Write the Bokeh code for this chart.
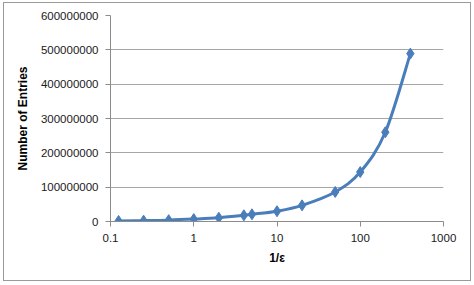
from bokeh.plotting import figure
from bokeh.models import FixedTicker, Range1d, Column
from bokeh.embed import file_html
from bokeh.resources import INLINE
import numpy as np

inv_eps = [0.125, 0.25, 0.5, 1, 2, 4, 5, 10, 20, 50, 100, 200, 400]
entries = [1.5e6, 2.5e6, 4e6, 7e6, 11e6, 18e6, 21e6, 30e6, 47e6, 86e6, 144e6, 260e6, 489e6]
x_ticks = [0.1, 1, 10, 100, 1000]
x_labels = ["0.1", "1", "10", "100", "1000"]
y_ticks = [0, 100000000, 200000000, 300000000, 400000000, 500000000, 600000000]
y_labels = [str(v) for v in y_ticks]

FONT = "Liberation Sans"
BLUE = "#4a7ebb"

p = figure(width=466, height=277, output_backend="svg", toolbar_location=None,
           x_axis_type="log", x_range=Range1d(0.1, 1000), y_range=Range1d(0, 600000000),
           min_border_left=106, min_border_right=27, min_border_top=12, min_border_bottom=59)
p.outline_line_color = None
p.background_fill_color = "white"
p.border_fill_color = "white"

# smoothed curve (Catmull-Rom style bezier in screen-linear space: log x, linear y)
lx = np.log10(np.array(inv_eps, dtype=float))
yy = np.array(entries, dtype=float)
t = 1.0 / 6.0
n = len(lx)
x0, y0, x1, y1, cx0, cy0, cx1, cy1 = [], [], [], [], [], [], [], []
for i in range(n - 1):
    ip = max(i - 1, 0)
    inn = min(i + 2, n - 1)
    x0.append(10 ** lx[i]); y0.append(yy[i])
    x1.append(10 ** lx[i + 1]); y1.append(yy[i + 1])
    cx0.append(10 ** (lx[i] + (lx[i + 1] - lx[ip]) * t))
    cy0.append(yy[i] + (yy[i + 1] - yy[ip]) * t)
    cx1.append(10 ** (lx[i + 1] - (lx[inn] - lx[i]) * t))
    cy1.append(yy[i + 1] - (yy[inn] - yy[i]) * t)
p.bezier(x0=x0, y0=y0, x1=x1, y1=y1, cx0=cx0, cy0=cy0, cx1=cx1, cy1=cy1,
         line_color=BLUE, line_width=3)
p.scatter(inv_eps, entries, marker="diamond", size=11, fill_color=BLUE, line_color=BLUE)

p.xgrid.grid_line_color = None
p.ygrid.grid_line_color = "#a6a6a6"
p.ygrid.grid_line_width = 1
p.ygrid.ticker = FixedTicker(ticks=y_ticks)

p.xaxis.ticker = FixedTicker(ticks=x_ticks, minor_ticks=[])
p.xaxis.major_label_overrides = dict(zip(x_ticks, x_labels))
p.yaxis.ticker = FixedTicker(ticks=y_ticks, minor_ticks=[])
p.yaxis.major_label_overrides = dict(zip(y_ticks, y_labels))

for ax in (p.xaxis, p.yaxis):
    ax.axis_line_color = "#8c8c8c"
    ax.major_tick_line_color = "#8c8c8c"
    ax.major_tick_out = 5
    ax.major_tick_in = 0
    ax.minor_tick_line_color = None
    ax.major_label_text_font = FONT
    ax.major_label_text_font_size = "11.5px"
    ax.major_label_text_color = "#1a1a1a"
    ax.axis_label_text_font = FONT
    ax.axis_label_text_font_style = "bold"
    ax.axis_label_text_font_size = "12px"
    ax.axis_label_text_color = "#000000"

p.xaxis.axis_label = "1/ε"
p.yaxis.axis_label = "Number of Entries"
p.xaxis.major_label_standoff = 7
p.yaxis.major_label_standoff = 7
p.xaxis.axis_label_standoff = 6
p.yaxis.axis_label_standoff = 8

layout = Column(children=[p], margin=(2, 3, 3, 3),
                styles={"border": "1px solid #9a9a9a"})

open("out.html", "w").write(file_html(layout, INLINE))
